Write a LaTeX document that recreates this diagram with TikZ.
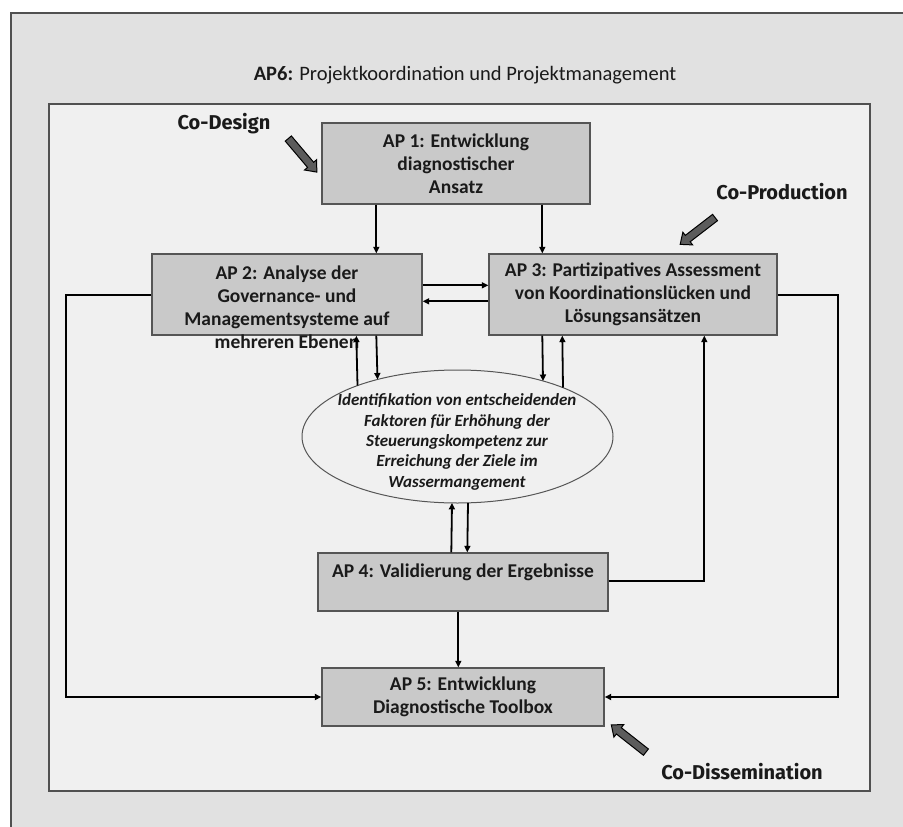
\documentclass[tikz,border=0pt]{standalone}
\usepackage{fontspec}
\setmainfont{Carlito}
\newfontfamily\cofont{Fira Sans}
\usetikzlibrary{arrows.meta,shapes.geometric,shapes.arrows,calc}
\definecolor{outerbg}{HTML}{E1E1E1}
\definecolor{innerbg}{HTML}{F0F0F0}
\definecolor{boxfill}{HTML}{C9C9C9}
\definecolor{boxline}{HTML}{555555}
\definecolor{frame}{HTML}{505050}
\definecolor{txt}{HTML}{1A1A1A}
\definecolor{arrowgray}{HTML}{5C5C5C}
\begin{document}
\begin{tikzpicture}[x=1pt,y=-1pt,
  box/.style={draw=boxline, fill=boxfill, line width=1.4pt, inner sep=0pt},
  btext/.style={font=\bfseries\fontsize{19.5}{23}\selectfont, align=center, text=txt},
  etext/.style={font=\bfseries\itshape\fontsize{17}{20.3}\selectfont, align=center, text=txt},
  conn/.style={line width=1.8pt, -{Triangle[length=6.5pt,width=6pt]}},
  coarrow/.style={single arrow, draw=black, fill=arrowgray, line width=1pt,
    minimum height=44pt, inner xsep=0pt, inner ysep=3.5pt, single arrow head extend=4pt,
    single arrow tip angle=80},
  colabel/.style={font=\cofont\bfseries\fontsize{20}{22}\selectfont, text=txt}]
\clip (0,0) rectangle (903,827);
\fill[white] (0,0) rectangle (903,827);
\draw[fill=outerbg, draw=frame, line width=1.5pt] (11,13) rectangle (930,850);
\node[draw=frame, fill=innerbg, line width=1.5pt, minimum width=821pt, minimum height=687pt, inner sep=0pt] (inner) at (459.5,447.5) {};
\node[font=\fontsize{20.5}{23}\selectfont, text=txt] (title) at (465,75) {\textbf{AP6:} Projektkoordination und Projektmanagement};

% boxes
\node[box, btext, minimum width=268pt, minimum height=81pt] (ap1) at (456,163.5) {AP 1: Entwicklung\\diagnostischer\\Ansatz};
\node[box, minimum width=270pt, minimum height=81pt] (ap2) at (287,294.5) {};
\node[btext] (ap2t) at (287,307.5) {AP 2: Analyse der\\Governance- und\\Managementsysteme auf\\mehreren Ebenen};
\node[box, btext, minimum width=288pt, minimum height=81pt] (ap3) at (633,294.5) {AP 3: Partizipatives Assessment\\von Koordinationslücken und\\Lösungsansätzen};
\node[ellipse, draw=boxline, fill=innerbg, line width=1pt, minimum width=311pt, minimum height=133pt, inner sep=0pt] (ell) at (457.5,436.5) {};
\node[etext] (ellt) at (457,442) {Identifikation von entscheidenden\\Faktoren für Erhöhung der\\Steuerungskompetenz zur\\Erreichung der Ziele im\\Wassermangement};
\node[box, minimum width=290pt, minimum height=58pt] (ap4) at (463,582) {};
\node[btext] (ap4t) at (463,572) {AP 4: Validierung der Ergebnisse};
\node[box, btext, minimum width=282pt, minimum height=58pt] (ap5) at (463,697) {AP 5: Entwicklung\\Diagnostische Toolbox};

% route corners
\coordinate (lcorner) at (66,697);
\coordinate (rcorner) at (838,697);

% connectors
\draw[conn] ($(ap1.south west)+(55,0)$) -- ($(ap2.north west)+(225,0)$);
\draw[conn] ($(ap1.south west)+(221,0)$) -- ($(ap3.north west)+(54,0)$);
\draw[conn] ($(ap2.north east)+(0,32)$) -- ($(ap3.north west)+(0,32)$);
\draw[conn] ($(ap3.north west)+(0,48)$) -- ($(ap2.north east)+(0,48)$);
\draw[conn] ($(ap2.north west)+(0,42)$) -| (lcorner) -- (ap5.west);
\draw[conn] ($(ap3.north east)+(0,42)$) -| (rcorner) -- (ap5.east);
\draw[conn] ($(ell.center)+(-100,-51)$) -- ($(ap2.south west)+(205,0)$);
\draw[conn] ($(ap2.south west)+(225,0)$) -- ($(ell.center)+(-80,-57)$);
\draw[conn] ($(ap3.south west)+(54,0)$) -- ($(ell.center)+(85.5,-55.5)$);
\draw[conn] ($(ell.center)+(105.5,-49)$) -- ($(ap3.south west)+(74,0)$);
\draw[conn] ($(ap4.north west)+(134,0)$) -- ($(ell.center)+(-5.5,66.4)$);
\draw[conn] ($(ell.center)+(10.5,66.3)$) -- ($(ap4.north west)+(150,0)$);
\draw[conn] ($(ap4.north east)+(0,29)$) -| ($(ap3.south west)+(216,0)$);
\draw[conn] ($(ap4.south west)+(141,0)$) -- ($(ap5.north west)+(137,0)$);

% co- labels and block arrows
\node[colabel] (codesign) at (224,124) {Co-Design};
\node[coarrow, rotate=-49.7] (codesignarrow) at (301,153.5) {};
\node[colabel] (coprod) at (782,192) {Co-Production};
\node[coarrow, rotate=-142.4] (coprodarrow) at (699.5,229.5) {};
\node[colabel] (codiss) at (742,772) {Co-Dissemination};
\node[coarrow, rotate=141.8] (codissarrow) at (630.5,740) {};
\end{tikzpicture}
\end{document}
